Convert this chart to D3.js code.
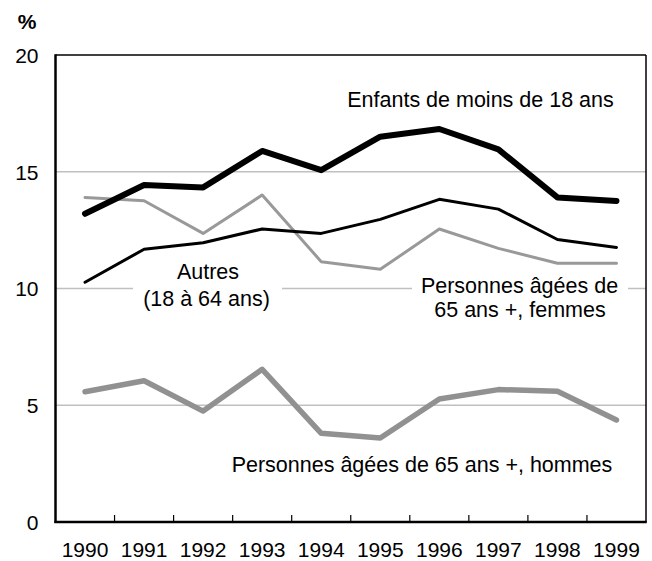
<!DOCTYPE html>
<html><head><meta charset="utf-8">
<script src="https://cdn.jsdelivr.net/npm/d3@7"></script>
<style>html,body{margin:0;padding:0;background:#fff;}svg{display:block;font-family:"Liberation Sans",Arial,sans-serif;}</style>
</head><body>
<svg id="c" width="652" height="561"></svg>
<script>
const years = ["1990","1991","1992","1993","1994","1995","1996","1997","1998","1999"];
const enfants = [13.2, 14.43, 14.33, 15.89, 15.07, 16.5, 16.83, 15.96, 13.9, 13.75];
const autres = [10.27, 11.68, 11.96, 12.55, 12.36, 12.96, 13.82, 13.4, 12.1, 11.76];
const femmes = [13.9, 13.76, 12.36, 14.0, 11.15, 10.82, 12.55, 11.72, 11.08, 11.08];
const hommes = [5.58, 6.05, 4.75, 6.54, 3.8, 3.6, 5.27, 5.67, 5.6, 4.37];
const yTicks = [0, 5, 10, 15, 20];
const gridTicks = [5, 10, 15];

const svg = d3.select("#c");
const L = 55.5, R = 646, T = 55, B = 522;
const x = d3.scaleBand().domain(years).range([L, R]).padding(0);
const y = d3.scaleLinear().domain([0, 20]).range([B, T]);

// gridlines
svg.append("g").selectAll("line").data(gridTicks).join("line")
  .attr("x1", L).attr("x2", R).attr("y1", d => y(d)).attr("y2", d => y(d))
  .attr("stroke", "#c0c0c0").attr("stroke-width", 1.5);

// label backgrounds (gaps in gridline)
svg.append("rect").attr("x", 133).attr("y", y(10) - 4).attr("width", 149).attr("height", 8).attr("fill", "#fff");
svg.append("rect").attr("x", 412).attr("y", y(10) - 4).attr("width", 216).attr("height", 8).attr("fill", "#fff");

// frame
svg.append("line").attr("x1", L).attr("x2", R).attr("y1", T).attr("y2", T).attr("stroke", "#000").attr("stroke-width", 1.5);
svg.append("line").attr("x1", R).attr("x2", R).attr("y1", T).attr("y2", B).attr("stroke", "#000").attr("stroke-width", 1.5);

// x axis
const xAxis = d3.axisBottom(x).tickSize(0).tickPadding(0);
const gx = svg.append("g").attr("transform", `translate(0,${B})`).call(xAxis);
gx.select(".domain").remove();
gx.selectAll("text").attr("y", 35).attr("dy", 0).attr("font-size", 21).attr("fill", "#000")
  .attr("font-family", "Liberation Sans, Arial, sans-serif");
// inner ticks at band boundaries
svg.append("g").selectAll("line").data(years.slice(1)).join("line")
  .attr("x1", d => x(d)).attr("x2", d => x(d)).attr("y1", B).attr("y2", B - 7)
  .attr("stroke", "#000").attr("stroke-width", 1.2);

// y axis
const yAxis = d3.axisLeft(y).tickValues(yTicks).tickSize(0).tickPadding(17);
const gy = svg.append("g").attr("transform", `translate(${L},0)`).call(yAxis);
gy.select(".domain").remove();
gy.selectAll("text").attr("font-size", 21).attr("fill", "#000").attr("dy", "0.35em")
  .attr("font-family", "Liberation Sans, Arial, sans-serif");

svg.append("line").attr("x1", L).attr("x2", L).attr("y1", T - 0.75).attr("y2", B + 1).attr("stroke", "#000").attr("stroke-width", 2.5);
svg.append("line").attr("x1", L - 1).attr("x2", R + 0.75).attr("y1", B).attr("y2", B).attr("stroke", "#000").attr("stroke-width", 2.5);

svg.append("text").attr("x", 27).attr("y", 29).attr("text-anchor", "middle")
  .attr("font-size", 21).attr("font-weight", "bold").text("%");

// series
const line = d3.line().x((d, i) => x(years[i]) + x.bandwidth() / 2).y(d => y(d));
const series = [
  {v: hommes, c: "#919191", w: 5.5},
  {v: femmes, c: "#999999", w: 3},
  {v: autres, c: "#000", w: 3},
  {v: enfants, c: "#000", w: 6}
];
svg.append("g").selectAll("path").data(series).join("path")
  .attr("d", d => line(d.v)).attr("fill", "none")
  .attr("stroke", d => d.c).attr("stroke-width", d => d.w)
  .attr("stroke-linejoin", "round").attr("stroke-linecap", "round");

// labels
const labels = [
  {t: "Enfants de moins de 18 ans", x: 480.5, y: 107},
  {t: "Autres", x: 208, y: 279},
  {t: "(18 à 64 ans)", x: 206.5, y: 306},
  {t: "Personnes âgées de", x: 519.5, y: 293},
  {t: "65 ans +, femmes", x: 520, y: 317},
  {t: "Personnes âgées de 65 ans +, hommes", x: 422, y: 471.5}
];
svg.append("g").selectAll("text").data(labels).join("text")
  .attr("x", d => d.x).attr("y", d => d.y).attr("text-anchor", "middle")
  .attr("font-size", 21.5).attr("fill", "#000").text(d => d.t);
</script>
</body></html>
